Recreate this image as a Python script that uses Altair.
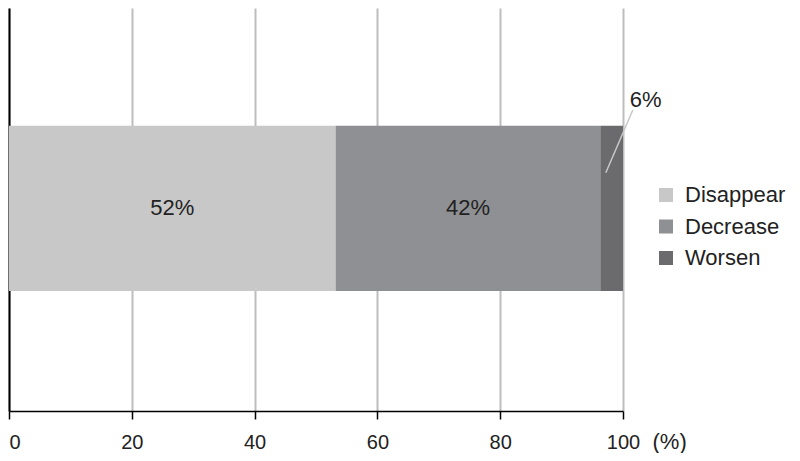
import altair as alt
import pandas as pd

categories = ["Disappear", "Decrease", "Worsen"]
values = [53.2, 43.1, 3.7]
labels = ["52%", "42%", "6%"]
colors = ["#c8c8c9", "#8f9093", "#6b6b6d"]
ticks = [0, 20, 40, 60, 80, 100]

# annotation for the small segment (x in %, y in % of plot height)
leader_x = [97.2, 101.6]
leader_y = [59.1, 74.7]
note_x = [103.7]
note_y = [77.2]

df = pd.DataFrame({"cat": categories, "value": values, "label": labels})
df["end"] = df["value"].cumsum()
df["start"] = df["end"] - df["value"]
df["mid"] = (df["start"] + df["end"]) / 2
df["row"] = "all"

FONT = "Liberation Sans"
W, H = 614, 403
xscale = alt.Scale(domain=[0, 100], nice=False)
yband = alt.Scale(paddingInner=0, paddingOuter=0.719, align=0.495)
yaxis = alt.Axis(labels=False, ticks=False, title=None, domain=True,
                 domainColor="black", domainWidth=2, grid=False)

bars = alt.Chart(df).mark_bar().encode(
    x=alt.X("start:Q", scale=xscale, title="(%)",
            axis=alt.Axis(values=ticks, grid=True, gridColor="#bdbdbd", gridWidth=2,
                          domainColor="black", domainWidth=1.5, tickColor="black",
                          tickWidth=1.5, tickSize=8, labelFontSize=20, labelFont=FONT,
                          labelColor="#222", labelPadding=13, labelFlush=False,
                          labelAlign=alt.expr("datum.value == 0 ? 'left' : 'center'"),
                          titleX=643, titleY=30, titleAlign="left", titleBaseline="middle",
                          titleFontSize=22, titleFont=FONT, titleFontWeight="normal",
                          titleColor="#222")),
    x2="end:Q",
    y=alt.Y("row:N", scale=yband, axis=yaxis),
    color=alt.Color("cat:N", sort=categories,
                    scale=alt.Scale(domain=categories, range=colors),
                    legend=alt.Legend(title=None, orient="none", legendX=646, legendY=176,
                                      symbolType="square", symbolSize=196,
                                      symbolStrokeWidth=0, symbolOpacity=1,
                                      labelFontSize=22, labelFont=FONT, labelColor="#222",
                                      rowPadding=9.5, labelOffset=8, padding=0)),
)

inner = alt.Chart(df.iloc[:2]).mark_text(fontSize=22, font=FONT, color="#222").encode(
    x=alt.X("mid:Q", scale=xscale, title="(%)"),
    y=alt.Y("row:N", scale=yband, axis=yaxis),
    text="label:N",
)

base = alt.layer(bars, inner)

lead = alt.Chart(pd.DataFrame({"x": leader_x, "y": leader_y})).mark_line(
    color="#c8c8c8", strokeWidth=1.5).encode(
    x=alt.X("x:Q", scale=xscale, title="(%)"),
    y=alt.Y("y:Q", scale=alt.Scale(domain=[0, 100], nice=False), axis=None),
)
note = alt.Chart(pd.DataFrame({"x": note_x, "y": note_y, "t": [labels[2]]})).mark_text(
    fontSize=22, font=FONT, color="#222").encode(
    x=alt.X("x:Q", scale=xscale, title="(%)"),
    y=alt.Y("y:Q", scale=alt.Scale(domain=[0, 100], nice=False), axis=None),
    text="t:N",
)

chart = alt.layer(base, lead, note).resolve_scale(y="independent").properties(
    width=W, height=H,
    autosize=alt.AutoSizeParams(type="none"),
    padding={"left": 1, "top": 0, "right": 169, "bottom": 42},
).configure_view(stroke=None)

chart.save("out.html", embed_options={"renderer": "svg", "actions": False})
